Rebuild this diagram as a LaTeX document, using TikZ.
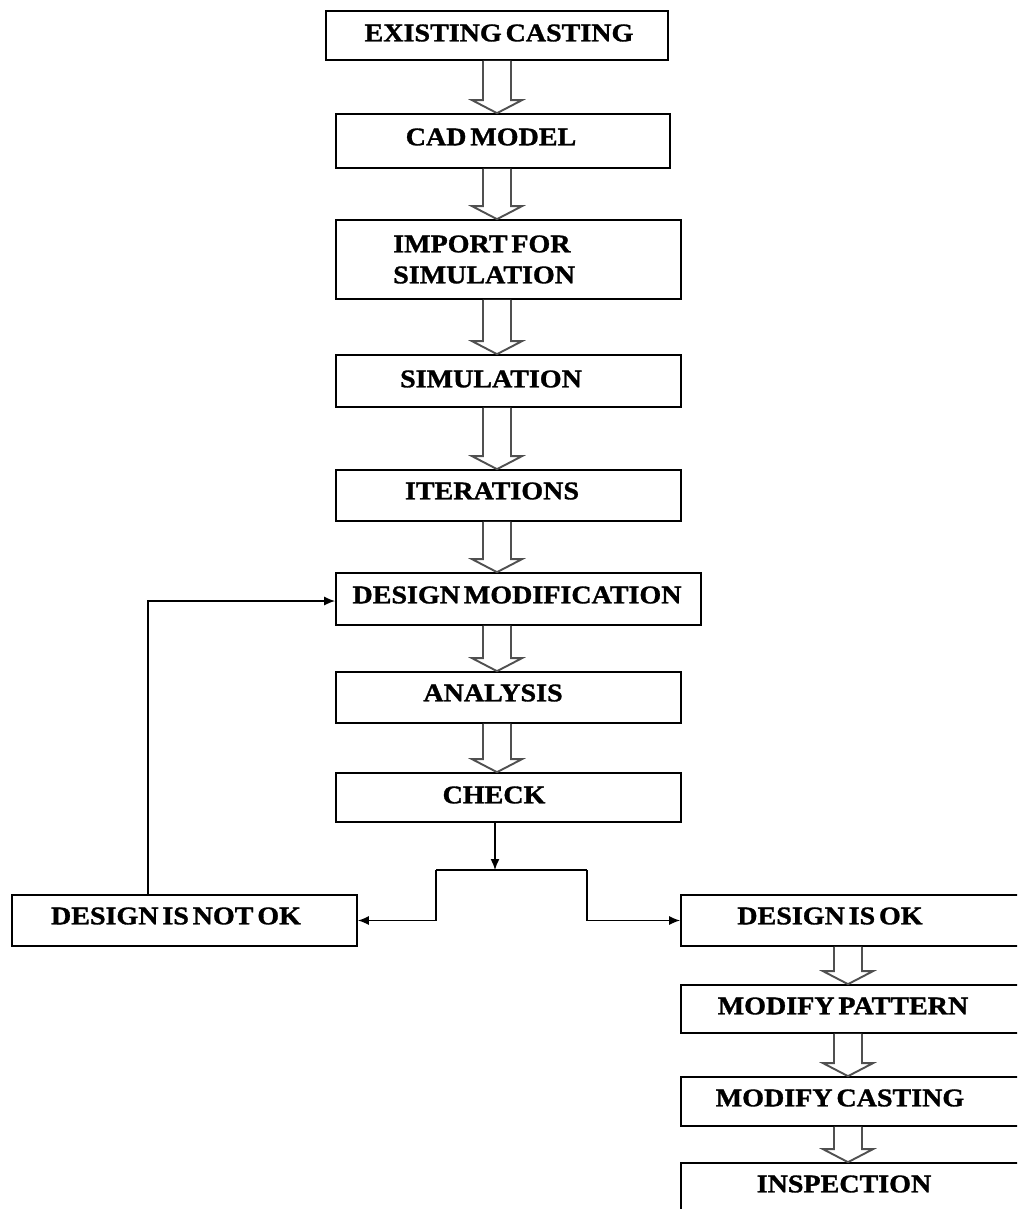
\documentclass[tikz,border=0pt]{standalone}
\usepackage{fontspec}
\setmainfont{Liberation Serif}[FakeStretch=1.1,FakeBold=1.2]
\usetikzlibrary{arrows.meta,calc}
\definecolor{arrgray}{RGB}{80,80,80}
\newcommand{\lblfont}{\bfseries\fontsize{25.5}{31}\selectfont\spaceskip=0.15em plus 0.05em\relax}
\tikzset{
  box/.style={draw=black,line width=1.7pt,fill=white,inner sep=0pt},
  lbl/.style={inner sep=0pt,font=\lblfont},
  hollowarr/.style={draw=arrgray,line width=1.9pt,fill=white,line join=miter},
  conn/.style={draw=black,line width=1.5pt,-{Latex[length=11pt,width=9pt]}},
  plain/.style={draw=black,line width=1.5pt}
}
\newcommand{\mkbox}[5]{\node[box,minimum width={(#4-#2)*1pt},minimum height={(#5-#3)*1pt}] (#1) at ({(#2+#4)/2},{(#3+#5)/2}) {};}
\newcommand{\harrow}[3]{%
  \draw[hollowarr] let \p1=(#1.south), \p2=(#2.north) in
    ({#3pt-14pt},\y1) -- ({#3pt-14pt},{\y2+13pt}) -- ({#3pt-25pt},{\y2+13pt}) --
    ({#3pt},\y2) -- ({#3pt+25pt},{\y2+13pt}) -- ({#3pt+14pt},{\y2+13pt}) -- ({#3pt+14pt},\y1);}
\begin{document}
\begin{tikzpicture}[x=1pt,y=-1pt]
\useasboundingbox (0,0) rectangle (1017,1209);
\clip (0,0) rectangle (1017,1209);
% boxes
\mkbox{ec}{326}{11}{668}{60}
\mkbox{cad}{336}{114}{670}{168}
\mkbox{imp}{336}{220}{681}{299}
\mkbox{sim}{336}{355}{681}{407}
\mkbox{iter}{336}{470}{681}{521}
\mkbox{dm}{336}{573}{701}{625}
\mkbox{ana}{336}{672}{681}{723}
\mkbox{chk}{336}{773}{681}{822}
\mkbox{notok}{12}{895}{357}{946}
\mkbox{ok}{681}{895}{1030}{946}
\mkbox{mp}{681}{985}{1030}{1033}
\mkbox{mc}{681}{1077}{1030}{1126}
\mkbox{insp}{681}{1163}{1030}{1240}
% labels
\node[lbl] (tec) at (499,33) {EXISTING CASTING};
\node[lbl] (tcad) at (491,137) {CAD MODEL};
\node[lbl,anchor=west,align=left] (timp) at (393,259.5) {IMPORT FOR\\SIMULATION};
\node[lbl] (tsim) at (491,379) {SIMULATION};
\node[lbl] (titer) at (492,491) {ITERATIONS};
\node[lbl] (tdm) at (517,595) {DESIGN MODIFICATION};
\node[lbl] (tana) at (493,693) {ANALYSIS};
\node[lbl] (tchk) at (494,795) {CHECK};
\node[lbl] (tnotok) at (176,916) {DESIGN IS NOT OK};
\node[lbl] (tok) at (830,916) {DESIGN IS OK};
\node[lbl] (tmp) at (843,1006) {MODIFY PATTERN};
\node[lbl] (tmc) at (840,1098) {MODIFY CASTING};
\node[lbl] (tinsp) at (844,1184) {INSPECTION};
% hollow arrows
\harrow{ec}{cad}{497}
\harrow{cad}{imp}{497}
\harrow{imp}{sim}{497}
\harrow{sim}{iter}{497}
\harrow{iter}{dm}{497}
\harrow{dm}{ana}{497}
\harrow{ana}{chk}{497}
\harrow{ok}{mp}{848}
\harrow{mp}{mc}{848}
\harrow{mc}{insp}{848}
% branching connectors
\coordinate (jm) at (495,870);
\coordinate (jl) at (436,870);
\coordinate (jr) at (587,870);
\draw[conn] (chk.south -| jm) -- (jm);
\draw[plain] (jl) -- (jr);
\draw[conn] (jl) |- (notok.east);
\draw[conn] (jr) |- (ok.west);
\coordinate (fb) at (148,895);
\draw[conn] (fb) |- ([yshift=-2pt]dm.west);
\end{tikzpicture}
\end{document}
